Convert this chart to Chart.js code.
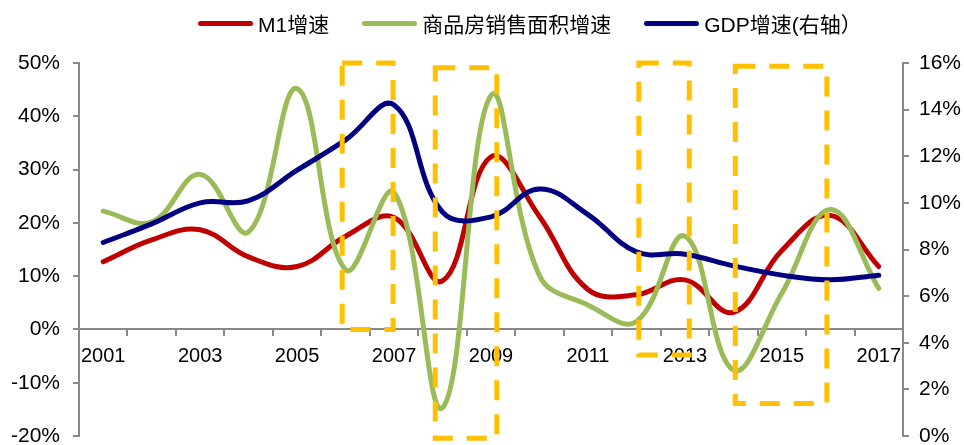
<!DOCTYPE html>
<html>
<head>
<meta charset="utf-8">
<script src="https://cdn.jsdelivr.net/npm/chart.js@4.4.1/dist/chart.umd.min.js"></script>
<style>
  html, body { margin: 0; padding: 0; background: #fff; }
  #wrap { position: relative; width: 964px; height: 445px; overflow: hidden; }
  #legend {
    position: absolute; left: 198px; top: 8px;
    display: flex; align-items: center; white-space: nowrap;
    font: 21px 'Liberation Sans', 'Noto Sans CJK SC', sans-serif; color: #000;
  }
  .lg-item { display: flex; align-items: center; margin-right: 33px; }
  .lg-line { width: 55px; height: 5px; border-radius: 3px; margin-right: 5px; }
  #chart { position: absolute; left: 0; top: 0; }
</style>
</head>
<body>
<div id="wrap">
  <canvas id="chart" width="964" height="445"></canvas>
  <div id="legend"></div>
</div>
<script>
// yearly growth rates, %
const years = ['2001', '2002', '2003', '2004', '2005', '2006', '2007', '2008', '2009',
               '2010', '2011', '2012', '2013', '2014', '2015', '2016', '2017'];
const m1Growth    = [12.7, 16.8, 18.7, 13.6, 11.8, 17.5, 21.0, 9.1, 32.4, 21.2, 7.5, 6.5, 9.3, 3.2, 14.8, 21.4, 11.8];
const salesGrowth = [22.2, 20.2, 29.1, 18.3, 45.2, 11.2, 25.7, -14.7, 43.9, 10.1, 4.6, 1.5, 17.5, -7.6, 6.8, 22.5, 7.7];
const gdpGrowth   = [8.3, 9.1, 10.0, 10.1, 11.4, 12.7, 14.2, 9.6, 9.4, 10.6, 9.5, 7.9, 7.8, 7.3, 6.9, 6.7, 6.9];

const seriesNames = ['M1增速', '商品房销售面积增速', 'GDP增速(右轴）'];

// left axis range and step, right axis range and step
const leftTicks  = [-20, 50, 10];
const rightTicks = [0, 16, 2];

// highlighted periods: [from year, to year, low %, high %] on the left axis
const highlightSpans = [
  [2005.93, 2006.98, 0, 50],
  [2007.85, 2009.12, -20.4, 49.1],
  [2012.05, 2013.09, -4.8, 50],
  [2014.04, 2015.93, -13.9, 49.4]
];

const FONT = "'Liberation Sans', 'Noto Sans CJK SC', sans-serif";
const AXIS = '#898989';
const COLORS = ['#C00000', '#9BBB59', '#000080'];

// dashed boxes drawn on top of the lines
const dashBoxes = {
  id: 'dashBoxes',
  afterDatasetsDraw(chart) {
    const { ctx, scales: { x, y } } = chart;
    const first = Number(years[0]);
    ctx.save();
    ctx.strokeStyle = '#FFC000';
    ctx.lineWidth = 5;
    ctx.setLineDash([20, 14]);
    highlightSpans.forEach(([from, to, lo, hi]) => {
      const x0 = x.getPixelForValue(from - first);
      const x1 = x.getPixelForValue(to - first);
      const y0 = y.getPixelForValue(hi);
      const y1 = y.getPixelForValue(lo);
      ctx.strokeRect(x0, y0, x1 - x0, y1 - y0);
    });
    ctx.restore();
  }
};

function line(label, data, color, axis, order) {
  return {
    label, data, yAxisID: axis, order,
    borderColor: color, backgroundColor: color,
    borderWidth: 5, pointRadius: 0, tension: 0.4,
    borderCapStyle: 'round', borderJoinStyle: 'round', fill: false
  };
}

const tickFont = { family: FONT, size: 21 };

new Chart(document.getElementById('chart'), {
  type: 'line',
  data: {
    labels: years,
    datasets: [
      line(seriesNames[0], m1Growth, COLORS[0], 'y', 3),
      line(seriesNames[1], salesGrowth, COLORS[1], 'y', 2),
      line(seriesNames[2], gdpGrowth, COLORS[2], 'y1', 1)
    ]
  },
  options: {
    responsive: false,
    animation: false,
    devicePixelRatio: 1,
    layout: { padding: { top: 63, bottom: 9, left: 0, right: 0 } },
    plugins: { legend: { display: false }, tooltip: { enabled: false } },
    scales: {
      x: {
        position: { y: 0 },
        offset: true,
        grid: { drawOnChartArea: false, offset: true, tickLength: 6, color: AXIS, lineWidth: 2 },
        border: { color: AXIS, width: 2 },
        ticks: {
          autoSkip: false, maxRotation: 0, padding: 9, color: '#000',
          font: { family: FONT, size: 20 },
          callback(v, i) { return i % 2 === 0 ? this.getLabelForValue(v) : ''; }
        },
        afterFit(s) { s.paddingLeft = 0; s.paddingRight = 0; }
      },
      y: {
        position: 'left',
        min: leftTicks[0], max: leftTicks[1],
        grid: { drawOnChartArea: false, tickLength: 6, color: AXIS, lineWidth: 2 },
        border: { color: AXIS, width: 2 },
        ticks: { stepSize: leftTicks[2], padding: 13, color: '#000', font: tickFont, callback: v => v + '%' },
        afterFit(s) { s.width = 79; s.paddingTop = 0; s.paddingBottom = 0; }
      },
      y1: {
        position: 'right',
        min: rightTicks[0], max: rightTicks[1],
        grid: { drawOnChartArea: false, tickLength: 6, color: AXIS, lineWidth: 2 },
        border: { color: AXIS, width: 2 },
        ticks: { stepSize: rightTicks[2], padding: 10, color: '#000', font: tickFont, callback: v => v + '%' },
        afterFit(s) { s.width = 61; s.paddingTop = 0; s.paddingBottom = 0; }
      }
    }
  },
  plugins: [dashBoxes]
});

// legend row above the plot
const legend = document.getElementById('legend');
seriesNames.forEach((name, i) => {
  const item = document.createElement('div');
  item.className = 'lg-item';
  item.innerHTML = `<span class="lg-line" style="background:${COLORS[i]}"></span><span>${name}</span>`;
  legend.appendChild(item);
});
</script>
</body>
</html>
